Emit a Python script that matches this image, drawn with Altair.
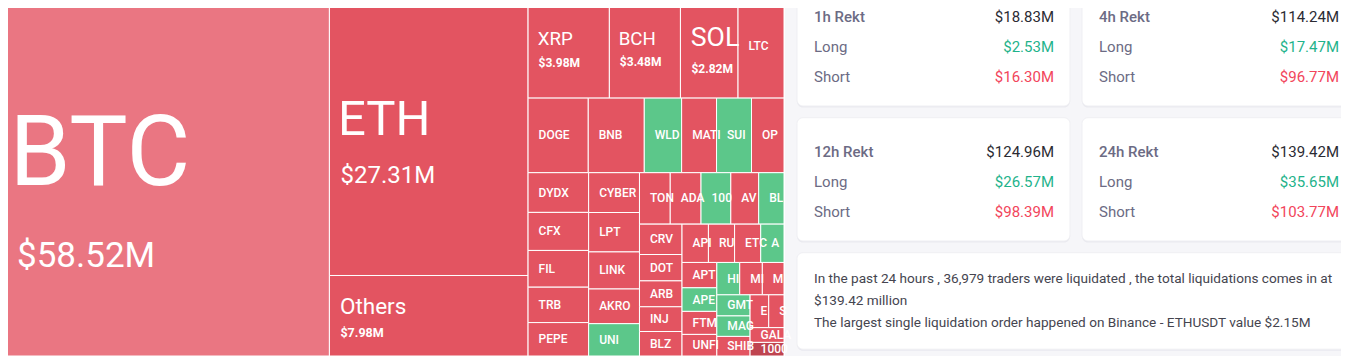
import altair as alt
import pandas as pd

# ---------------- data ----------------
coins = ["BTC", "ETH", "Others", "XRP", "BCH", "SOL", "LTC", "DOGE", "BNB", "WLD",
         "MATIC", "SUI", "OP", "DYDX", "CFX", "FIL", "TRB", "PEPE", "CYBER", "LPT",
         "LINK", "AKRO", "UNI", "TON", "ADA", "1000BONK", "AVAX", "BLUR", "CRV", "DOT",
         "ARB", "INJ", "BLZ", "API3", "RUNE", "ETC", "AMB", "APT", "APE", "FTM",
         "UNFI", "HIGH", "MINA", "MANA", "GMT", "MAGIC", "SHIB", "EOS", "SAND", "GALA",
         "1000SATS"]
liq_usd_m = [58.52, 27.31, 7.98, 3.98, 3.48, 2.82, 2.25, 2.24, 2.085, 1.39,
             1.30, 1.30, 1.21, 1.20, 1.15, 1.11, 1.07, 1.01, 1.01, 1.00,
             0.94, 0.88, 0.82, 0.79, 0.79, 0.765, 0.715, 0.65, 0.645, 0.56,
             0.55, 0.525, 0.52, 0.505, 0.50, 0.50, 0.445, 0.44, 0.41, 0.40,
             0.375, 0.37, 0.365, 0.35, 0.35, 0.34, 0.325, 0.305, 0.25, 0.25,
             0.23]
trend = ["mild", "down", "down", "down", "down", "down", "down", "down", "down", "up",
         "down", "up", "down", "down", "down", "down", "down", "down", "down", "down",
         "down", "down", "up", "down", "down", "up", "down", "up", "down", "down",
         "down", "down", "down", "down", "down", "down", "up", "down", "up", "down",
         "down", "up", "down", "down", "up", "up", "down", "down", "down", "down",
         "deep"]

periods = ["1h", "4h", "12h", "24h"]
total_rekt = [18.83, 114.24, 124.96, 139.42]
long_rekt = [2.53, 17.47, 26.57, 35.65]
short_rekt = [16.30, 96.77, 98.39, 103.77]

traders_liquidated = "36,979"
total_24h = 139.42
largest_exchange = "Binance"
largest_symbol = "ETHUSDT"
largest_value = 2.15

# ---------------- layout helpers ----------------
PHI = (1 + 5 ** 0.5) / 2


def squarify(values, x0, y0, x1, y1, ratio=PHI):
    """d3-style squarified treemap tiling."""
    rects = [None] * len(values)
    n = len(values)
    i0 = i1 = 0
    value = float(sum(values))
    while i0 < n:
        dx, dy = x1 - x0, y1 - y0
        sum_v = values[i1]
        i1 += 1
        min_v = max_v = sum_v
        alpha = max(dy / dx, dx / dy) / (value * ratio)
        beta = sum_v * sum_v * alpha
        min_ratio = max(max_v / beta, beta / min_v)
        while i1 < n:
            nv = values[i1]
            s = sum_v + nv
            mn, mx = min(min_v, nv), max(max_v, nv)
            beta = s * s * alpha
            new_ratio = max(mx / beta, beta / mn)
            if new_ratio > min_ratio:
                break
            sum_v, min_v, max_v, min_ratio = s, mn, mx, new_ratio
            i1 += 1
        if dx < dy:
            h = dy * sum_v / value
            cx = x0
            for i in range(i0, i1):
                w = dx * values[i] / sum_v
                rects[i] = (cx, y0, cx + w, y0 + h)
                cx += w
            y0 += h
        else:
            w = dx * sum_v / value
            cy = y0
            for i in range(i0, i1):
                hh = dy * values[i] / sum_v
                rects[i] = (x0, cy, x0 + w, cy + hh)
                cy += hh
            x0 += w
        value -= sum_v
        i0 = i1
    return rects


TREE_W, TREE_H = 784, 356
PAGE_W, PAGE_H = 1349, 356
OFF = 8                 # page margin
VIEW_W = PAGE_W - 2 * OFF
VIEW_H = PAGE_H - OFF

tiles = squarify(liq_usd_m, 0, 0, TREE_W, TREE_H)
cells = pd.DataFrame({
    "coin": coins, "value": liq_usd_m, "trend": trend,
    "x0": [t[0] for t in tiles], "y0": [t[1] for t in tiles],
    "x1": [t[2] for t in tiles], "y1": [t[3] for t in tiles],
})

# label styling: (name size, value size, name dx, name dy, value dx, value dy, value bold)
big_labels = {
    "BTC": (98, 35, 9.5, -22, 17, 77.5, False),
    "ETH": (49, 24, 8.5, -18, 11, 38, False),
    "Others": (22.5, 12.5, 10.5, -8.7, 11, 17, True),
    "XRP": (18.7, 12, 9.7, -10.4, 10.5, 14, True),
    "BCH": (18.7, 12, 9.3, -10.4, 10.5, 13, True),
    "SOL": (26.7, 12, 10.3, -11, 11, 20, True),
}
SMALL_DX = 10.5
OVERFLOW = 8

name_rows, value_rows = [], []
for r in cells.itertuples():
    cy = (r.y0 + r.y1) / 2
    if r.coin in big_labels:
        ns, vs, ndx, ndy, vdx, vdy, vb = big_labels[r.coin]
        name_rows.append(dict(text=r.coin, tx=r.x0 + ndx, ty=cy + ndy, fs=ns,
                              lim=r.x1 - r.x0 - ndx + OVERFLOW, kind="big"))
        value_rows.append(dict(text=f"${r.value:.2f}M", tx=r.x0 + vdx, ty=cy + vdy, fs=vs,
                               lim=r.x1 - r.x0 - vdx + OVERFLOW, kind="bold" if vb else "normal"))
    else:
        name_rows.append(dict(text=r.coin, tx=r.x0 + SMALL_DX,
                              ty=cy + (-3 if r.coin == "LTC" else 0),
                              fs=12, lim=r.x1 - r.x0 - SMALL_DX + OVERFLOW, kind="small"))
names = pd.DataFrame(name_rows)
vals = pd.DataFrame(value_rows)

# right panel cards
CARD_X0, CARD_W, CARD_GAP_X = 797, 273, 12
CARD_Y0, CARD_H, CARD_GAP_Y = -17.3, 123.3, 11.7
card_rows, title_rows, label_rows = [], [], []
tot_rows, long_rows, short_rows = [], [], []
for i, p in enumerate(periods):
    col, row = i % 2, i // 2
    cx0 = CARD_X0 + col * (CARD_W + CARD_GAP_X)
    cy0 = CARD_Y0 + row * (CARD_H + CARD_GAP_Y)
    card_rows.append(dict(x0=cx0, x1=cx0 + CARD_W, y0=cy0, y1=cy0 + CARD_H))
    lx, rx = cx0 + 17, cx0 + CARD_W - 16
    title_rows.append(dict(text=f"{p} Rekt", tx=lx, ty=cy0 + 34))
    label_rows.append(dict(text="Long", tx=lx, ty=cy0 + 64))
    label_rows.append(dict(text="Short", tx=lx, ty=cy0 + 94))
    tot_rows.append(dict(text=f"${total_rekt[i]:.2f}M", tx=rx, ty=cy0 + 34))
    long_rows.append(dict(text=f"${long_rekt[i]:.2f}M", tx=rx, ty=cy0 + 64))
    short_rows.append(dict(text=f"${short_rekt[i]:.2f}M", tx=rx, ty=cy0 + 94))
SUM_Y0 = CARD_Y0 + 2 * (CARD_H + CARD_GAP_Y)
card_rows.append(dict(x0=CARD_X0, x1=CARD_X0 + 2 * CARD_W + CARD_GAP_X, y0=SUM_Y0, y1=SUM_Y0 + 96.5))
summary_lines = [
    f"In the past 24 hours , {traders_liquidated} traders were liquidated , the total liquidations comes in at",
    f"${total_24h:.2f} million",
    f"The largest single liquidation order happened on {largest_exchange} - {largest_symbol} value ${largest_value:.2f}M",
]
summary = pd.DataFrame(dict(text=summary_lines, tx=[CARD_X0 + 17] * 3,
                            ty=[SUM_Y0 + 26.5 + 21.7 * k for k in range(3)]))
cards = pd.DataFrame(card_rows)
shadows = cards.assign(y0=cards.y0 + 1.5, y1=cards.y1 + 1.5)
panel = pd.DataFrame(dict(x0=[TREE_W + 1], x1=[PAGE_W + 20], y0=[-20], y1=[PAGE_H + 20]))

# ---------------- chart ----------------
X = alt.Scale(domain=[OFF, OFF + VIEW_W], nice=False, zero=False)
Y = alt.Scale(domain=[OFF, OFF + VIEW_H], nice=False, zero=False, reverse=True)


def box(df, **mark):
    return alt.Chart(df).mark_rect(clip=True, **mark).encode(
        x=alt.X("x0:Q", scale=X, axis=None), x2="x1:Q",
        y=alt.Y("y0:Q", scale=Y, axis=None), y2="y1:Q")


def txt(df, size=None, **mark):
    enc = dict(x=alt.X("tx:Q", scale=X, axis=None), y=alt.Y("ty:Q", scale=Y, axis=None),
               text="text:N")
    if size is None:
        enc["size"] = alt.Size("fs:Q", scale=None, legend=None)
    return alt.Chart(df).mark_text(baseline="middle", **mark).encode(**enc)


CARD_FONT = "Roboto"
TREE_FONT = "Roboto"

layers = [
    box(panel, color="#F6F6F9"),
    box(shadows, color="#E9E9EF", cornerRadius=6),
    box(cards, color="#FFFFFF", cornerRadius=6, stroke="#EFEFF3", strokeWidth=1),
    alt.Chart(cells).mark_rect(clip=True, stroke="#FFFFFF", strokeWidth=1).encode(
        x=alt.X("x0:Q", scale=X, axis=None), x2="x1:Q",
        y=alt.Y("y0:Q", scale=Y, axis=None), y2="y1:Q",
        color=alt.Color("trend:N", legend=None,
                        scale=alt.Scale(domain=["mild", "down", "up", "deep"],
                                        range=["#EA7682", "#E35461", "#5CC78A", "#BF4450"])),
        tooltip=["coin:N", "value:Q"]),
    txt(names[names.kind == "big"], align="left", font=TREE_FONT, fontWeight="normal",
        color="#FFFFFF", limit=alt.ExprRef("datum.lim"), ellipsis=" "),
    txt(names[names.kind == "small"], align="left", font=TREE_FONT, fontWeight=500,
        color="#FFFFFF", limit=alt.ExprRef("datum.lim"), ellipsis=" "),
    txt(vals[vals.kind == "normal"], align="left", font=TREE_FONT, fontWeight="normal",
        color="#FFFFFF", limit=alt.ExprRef("datum.lim"), ellipsis=" "),
    txt(vals[vals.kind == "bold"], align="left", font=TREE_FONT, fontWeight="bold",
        color="#FFFFFF", limit=alt.ExprRef("datum.lim"), ellipsis=" "),
    txt(pd.DataFrame(title_rows), size=False, align="left", font=CARD_FONT, fontSize=15,
        fontWeight=500, color="#6C6B84"),
    txt(pd.DataFrame(label_rows), size=False, align="left", font=CARD_FONT, fontSize=15,
        color="#6C6B84"),
    txt(pd.DataFrame(tot_rows), size=False, align="right", font=CARD_FONT, fontSize=15,
        color="#2B2B33"),
    txt(pd.DataFrame(long_rows), size=False, align="right", font=CARD_FONT, fontSize=15,
        color="#1FB38B"),
    txt(pd.DataFrame(short_rows), size=False, align="right", font=CARD_FONT, fontSize=15,
        color="#F2455B"),
    txt(summary, size=False, align="left", font=CARD_FONT, fontSize=13.6, color="#45454F"),
]

chart = alt.layer(*layers).properties(
    width=VIEW_W, height=VIEW_H,
    autosize=alt.AutoSizeParams(type="none"), padding=0, background="#FFFFFF",
).configure_view(stroke=None)

chart.save("out.html", embed_options={"renderer": "svg", "actions": False})
